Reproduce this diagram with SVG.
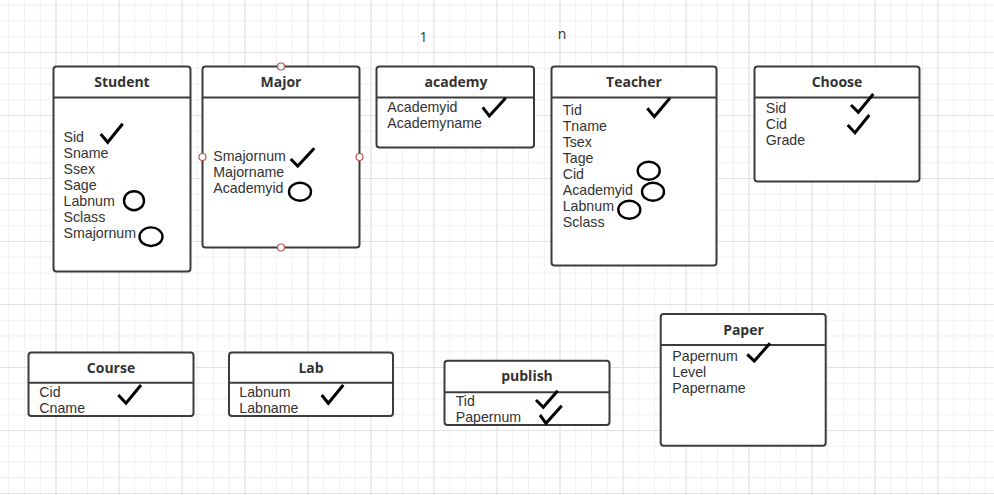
<svg xmlns="http://www.w3.org/2000/svg" width="994" height="495" viewBox="0 0 994 495">
<style>
.box{fill:#fff;stroke:#3c3c3c;stroke-width:2}
.div{stroke:#3c3c3c;stroke-width:2}
.title{font-family:"Open Sans","Liberation Sans",sans-serif;font-size:14px;font-weight:bold;fill:#333;text-anchor:middle}
.fld{font-family:"Liberation Sans",Arial,sans-serif;font-size:14.2px;fill:#333}
.lbl{font-family:"Open Sans","Liberation Sans",sans-serif;font-size:14px;fill:#333;text-anchor:middle}
.chk{fill:none;stroke:#000;stroke-width:3;stroke-linejoin:miter;stroke-linecap:butt}
.ov{fill:none;stroke:#000;stroke-width:2.4}
.pt{fill:#fff;stroke:#b85450;stroke-width:1.2}
</style>
<defs>
<pattern id="minor" patternUnits="userSpaceOnUse" x="8.25" y="4.75" width="15.75" height="15.75">
<path d="M0.5 0V15.75M0 0.5H15.75" stroke="#f0f0f0" stroke-width="1" fill="none"/>
</pattern>
<pattern id="major" patternUnits="userSpaceOnUse" x="55.5" y="52" width="63" height="63">
<path d="M0.5 0V63M0 0.5H63" stroke="#e2e2e2" stroke-width="1" fill="none"/>
</pattern>
</defs>
<rect width="994" height="495" fill="#fff"/>
<rect width="994" height="495" fill="url(#minor)"/>
<rect width="994" height="495" fill="url(#major)"/>

<g id="connectors"></g>

<g id="label-1"><text class="lbl" x="423.5" y="41.5">1</text></g>
<g id="label-n"><text class="lbl" x="562" y="38.5">n</text></g>

<g id="Student">
<rect class="box" x="53.5" y="66.5" width="137" height="205" rx="3"/>
<line class="div" x1="53.5" y1="97.5" x2="190.5" y2="97.5"/>
<text class="title" x="122" y="86.5">Student</text>
<text class="fld" x="63.5" y="141.5"><tspan x="63.5">Sid</tspan><tspan x="63.5" dy="16">Sname</tspan><tspan x="63.5" dy="16">Ssex</tspan><tspan x="63.5" dy="16">Sage</tspan><tspan x="63.5" dy="16">Labnum</tspan><tspan x="63.5" dy="16">Sclass</tspan><tspan x="63.5" dy="16">Smajornum</tspan></text>
<path class="chk" d="M100.7 134L107.7 142.3L122.7 123.7"/>
<ellipse class="ov" cx="134" cy="200.7" rx="10" ry="9.5"/>
<ellipse class="ov" cx="151" cy="236.7" rx="11.5" ry="9.3"/>
</g>

<g id="Major">
<rect class="box" x="202.5" y="66.5" width="157" height="181" rx="3"/>
<line class="div" x1="202.5" y1="97.5" x2="359.5" y2="97.5"/>
<text class="title" x="281" y="86.5">Major</text>
<text class="fld" x="213.3" y="161"><tspan x="213.3">Smajornum</tspan><tspan x="213.3" dy="16">Majorname</tspan><tspan x="213.3" dy="16">Academyid</tspan></text>
<path class="chk" d="M290.7 159L297.7 166L314.3 148.3"/>
<ellipse class="ov" cx="300" cy="191.7" rx="11" ry="9"/>
<circle class="pt" cx="281" cy="66.5" r="3.5"/>
<circle class="pt" cx="202.5" cy="157" r="3.5"/>
<circle class="pt" cx="359.5" cy="157" r="3.5"/>
<circle class="pt" cx="281" cy="247.5" r="3.5"/>
</g>

<g id="academy">
<rect class="box" x="376.5" y="66.5" width="157.5" height="81" rx="3"/>
<line class="div" x1="376.5" y1="97.5" x2="534" y2="97.5"/>
<text class="title" x="456" y="86.5">academy</text>
<text class="fld" x="387.3" y="112"><tspan x="387.3">Academyid</tspan><tspan x="387.3" dy="16">Academyname</tspan></text>
<path class="chk" d="M482.7 107.3L489.3 116L505.7 98"/>
</g>

<g id="Teacher">
<rect class="box" x="551.5" y="66.5" width="165" height="199" rx="3"/>
<line class="div" x1="551.5" y1="97.5" x2="716.5" y2="97.5"/>
<text class="title" x="634" y="86.5">Teacher</text>
<text class="fld" x="562.7" y="115"><tspan x="562.7">Tid</tspan><tspan x="562.7" dy="16">Tname</tspan><tspan x="562.7" dy="16">Tsex</tspan><tspan x="562.7" dy="16">Tage</tspan><tspan x="562.7" dy="16">Cid</tspan><tspan x="562.7" dy="16">Academyid</tspan><tspan x="562.7" dy="16">Labnum</tspan><tspan x="562.7" dy="16">Sclass</tspan></text>
<path class="chk" d="M647.3 108.3L654.3 116.7L670 98"/>
<ellipse class="ov" cx="648.7" cy="170.7" rx="11" ry="9"/>
<ellipse class="ov" cx="653" cy="191.7" rx="11" ry="9"/>
<ellipse class="ov" cx="629.3" cy="209.7" rx="11" ry="9"/>
</g>

<g id="Choose">
<rect class="box" x="754.5" y="66.5" width="165" height="115" rx="3"/>
<line class="div" x1="754.5" y1="97.5" x2="919.5" y2="97.5"/>
<text class="title" x="837" y="86.5">Choose</text>
<text class="fld" x="765.7" y="112.5"><tspan x="765.7">Sid</tspan><tspan x="765.7" dy="16">Cid</tspan><tspan x="765.7" dy="16">Grade</tspan></text>
<path class="chk" d="M851 105L858.3 112.3L873.3 94"/>
<path class="chk" d="M847.7 125L855 132.7L869.3 115"/>
</g>

<g id="Course">
<rect class="box" x="28.5" y="352.5" width="165" height="63.5" rx="3"/>
<line class="div" x1="28.5" y1="382.7" x2="193.5" y2="382.7"/>
<text class="title" x="111" y="372.5">Course</text>
<text class="fld" x="39.3" y="397.3"><tspan x="39.3">Cid</tspan><tspan x="39.3" dy="16">Cname</tspan></text>
<path class="chk" d="M118.3 395L126 403.3L141 385"/>
</g>

<g id="Lab">
<rect class="box" x="229" y="352.5" width="164" height="63.5" rx="3"/>
<line class="div" x1="229" y1="382.7" x2="393" y2="382.7"/>
<text class="title" x="311" y="372.5">Lab</text>
<text class="fld" x="239.3" y="397.3"><tspan x="239.3">Labnum</tspan><tspan x="239.3" dy="16">Labname</tspan></text>
<path class="chk" d="M321.7 395L328.3 403.3L343.3 385"/>
</g>

<g id="publish">
<rect class="box" x="444.5" y="360.7" width="165" height="64.3" rx="3"/>
<line class="div" x1="444.5" y1="392.3" x2="609.5" y2="392.3"/>
<text class="title" x="527" y="381">publish</text>
<text class="fld" x="455.7" y="406"><tspan x="455.7">Tid</tspan><tspan x="455.7" dy="16">Papernum</tspan></text>
<path class="chk" d="M536 400L543.3 407.3L557.7 390.7"/>
<path class="chk" d="M540 415L546 423.3L561.7 405.7"/>
</g>

<g id="Paper">
<rect class="box" x="660.7" y="314" width="165" height="131.7" rx="3"/>
<line class="div" x1="660.7" y1="345" x2="825.7" y2="345"/>
<text class="title" x="743.5" y="334.5">Paper</text>
<text class="fld" x="672.3" y="360.7"><tspan x="672.3">Papernum</tspan><tspan x="672.3" dy="16">Level</tspan><tspan x="672.3" dy="16">Papername</tspan></text>
<path class="chk" d="M747.3 354.3L754.3 361L770 343.3"/>
</g>
</svg>
